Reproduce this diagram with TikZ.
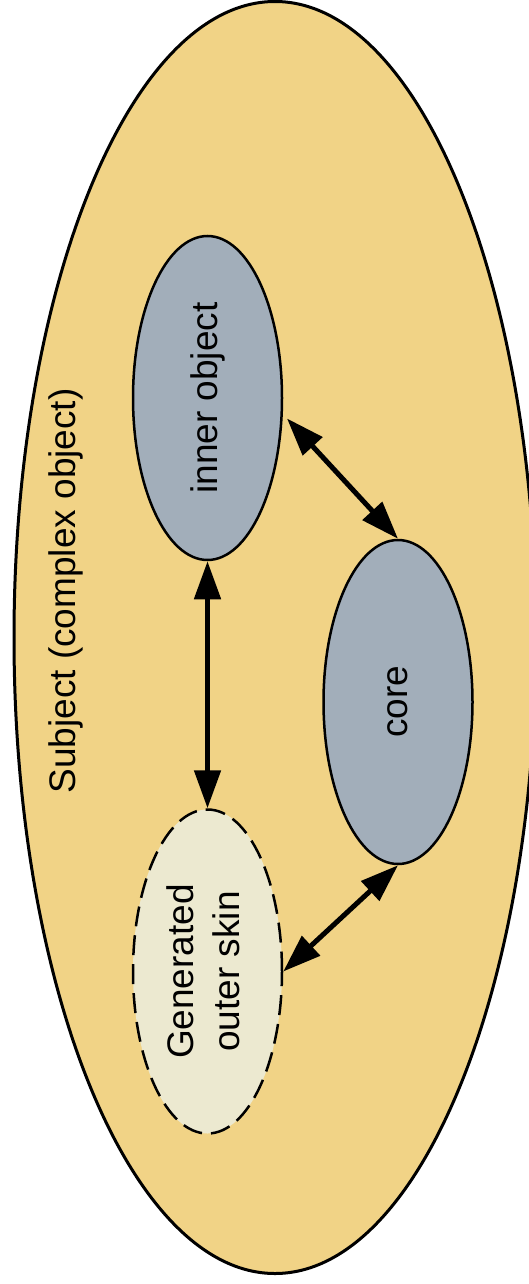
\documentclass[tikz,border=0pt]{standalone}
\usepackage{fontspec}
\setmainfont{Liberation Sans}
\usepackage{tikz}
\usetikzlibrary{calc}
\usetikzlibrary{arrows.meta}
\usetikzlibrary{shapes.geometric}

\definecolor{subjfill}{RGB}{241,211,134}
\definecolor{partfill}{RGB}{162,174,186}
\definecolor{skinfill}{RGB}{236,233,208}

\begin{document}
\begin{tikzpicture} [x=1pt, y=-1pt,
  part/.style={ellipse, draw=black, line width=2.5pt, fill=partfill, minimum width=149pt, minimum height=324pt, inner sep=0pt, font=\fontsize{37}{46}\selectfont},
  twoway/.style={line width=5pt, {Triangle[length=38pt, width=26pt]}-{Triangle[length=38pt, width=26pt]}}]
\useasboundingbox (0,0) rectangle (528,1284);

\filldraw[fill=subjfill, line width=3pt] (275,637.5) ellipse [x radius=261, y radius=636];
\node[font=\fontsize{37}{46}\selectfont] (subject) at (66,591) {\rotatebox{90}{Subject (complex object)}};

\node[part] (inner) at (207.5,398) {\rotatebox{90}{inner object}};
\node[part] (core) at (398,702) {\rotatebox{90}{core}};
\node[part, fill=skinfill, dash pattern=on 20pt off 9pt] (skin) at (207.5,971.5) {\rotatebox{90}{\begin{tabular}{@{}c@{}}Generated\\outer skin\end{tabular}}};

\draw[twoway] (inner.south) -- (skin.north);
\draw[twoway, shorten <=6pt] (inner.-12) -- (core.north);
\draw[twoway] (skin.east) -- (core.south);

\end{tikzpicture}
\end{document}
